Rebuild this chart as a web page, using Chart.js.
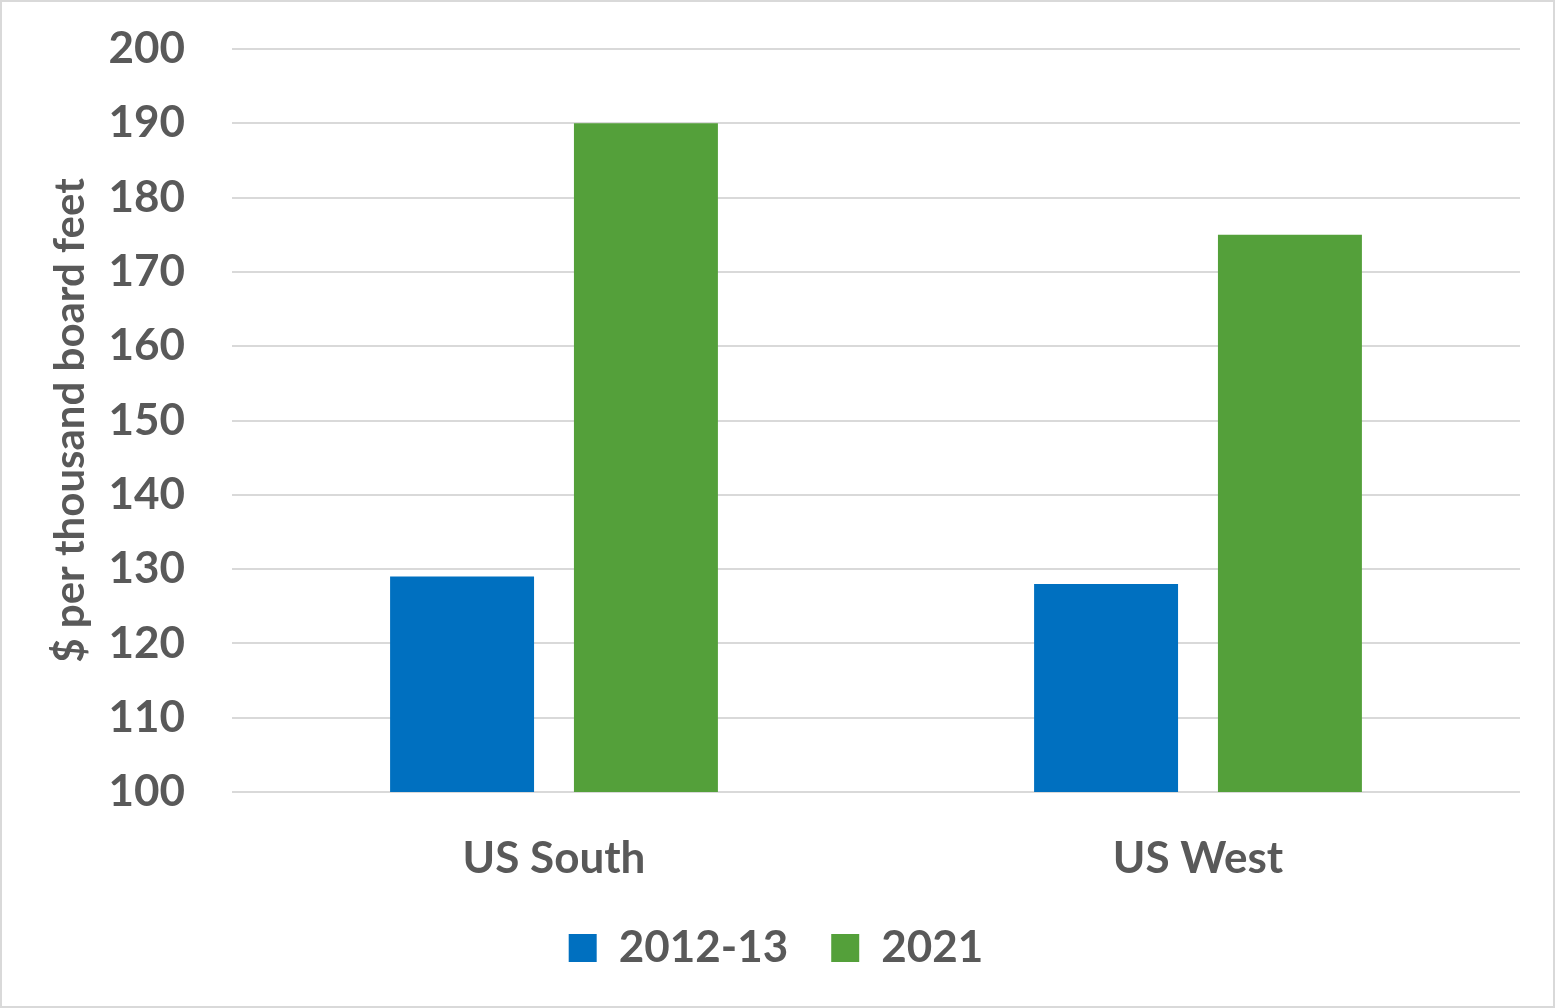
<!DOCTYPE html>
<html>
<head>
<meta charset="utf-8">
<script src="https://cdn.jsdelivr.net/npm/chart.js@4/dist/chart.umd.min.js"></script>
<style>
  html,body{margin:0;padding:0;background:#fff}
  #wrap{width:1555px;height:1008px;box-sizing:border-box;border:2px solid #d9d9d9;position:relative}
</style>
</head>
<body>
<div id="wrap"><canvas id="c"></canvas></div>
<script>
const REGIONS=['US South','US West']
const SERIES=['2012-13','2021']
const V_2012_13=[129,128]
const V_2021=[190,175]
const Y_MIN=100,Y_MAX=200,Y_STEP=10

const txt='#595959',gc='#d9d9d9',ff='Lato'

new Chart(document.getElementById('c'),{
  type:'bar',
  data:{labels:REGIONS,datasets:[
    {label:SERIES[0],data:V_2012_13,backgroundColor:'#0070c0'},
    {label:SERIES[1],data:V_2021,backgroundColor:'#54a03a'},
  ]},
  options:{
    responsive:true,maintainAspectRatio:false,animation:false,
    datasets:{bar:{categoryPercentage:0.571,barPercentage:0.783,borderWidth:0}},
    layout:{padding:{left:30,right:33,top:47,bottom:26}},
    plugins:{
      tooltip:{enabled:false},
      legend:{position:'bottom',labels:{color:txt,font:{family:ff,size:44,weight:'bold'},boxWidth:28,boxHeight:28,padding:43}}
    },
    scales:{
      x:{
        grid:{display:false,drawTicks:false},border:{display:false},
        ticks:{color:txt,font:{family:ff,size:44,weight:'bold'},padding:40},
        afterFit:s=>{s.height=91}
      },
      y:{
        min:Y_MIN,max:Y_MAX,
        grid:{color:gc,lineWidth:2,drawTicks:false},border:{display:false},
        ticks:{stepSize:Y_STEP,color:txt,font:{family:ff,size:44,weight:'bold'},padding:47},
        title:{display:true,text:'$ per thousand board feet',color:txt,font:{family:ff,size:42,weight:'bold'},padding:{top:13,bottom:0}},
        afterFit:s=>{s.width=200;s.paddingTop=0;s.paddingBottom=0}
      }
    }
  }
})
</script>
</body>
</html>
